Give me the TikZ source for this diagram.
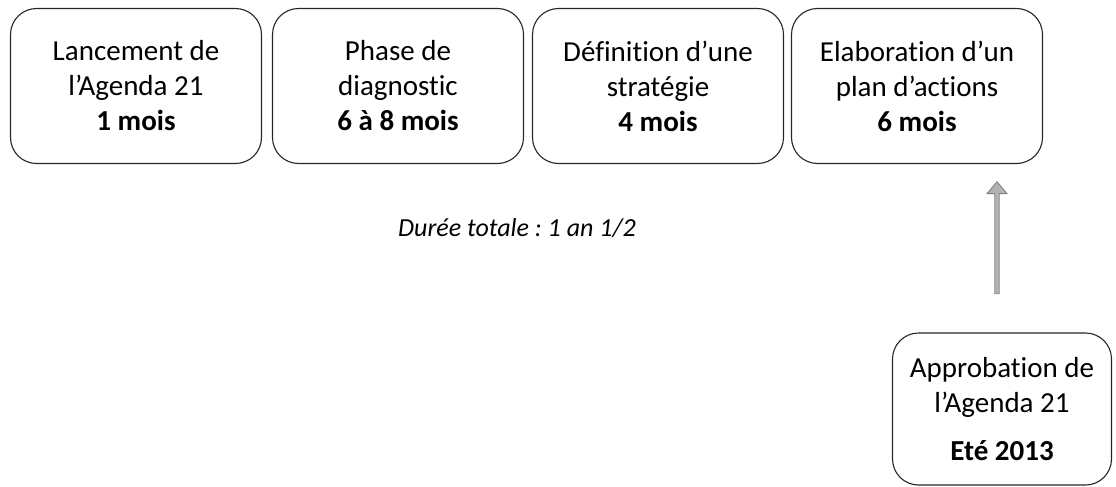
\documentclass[tikz,border=0pt]{standalone}
\usepackage{fontspec}
\setmainfont[Ligatures={NoCommon}]{Carlito}
\usetikzlibrary{shapes.arrows}
\frenchspacing
\begin{document}
\begin{tikzpicture}[x=1pt,y=1pt,
  phase/.style={draw=black!85, line width=1.1pt, rounded corners=26pt, align=center,
    minimum width=251pt, minimum height=155pt, inner sep=0pt,
    font=\fontsize{29}{35}\selectfont},
  uparrow/.style={single arrow, draw=black!50, fill=black!30, line width=0.8pt,
    shape border rotate=90, minimum height=112pt, minimum width=20pt,
    single arrow head extend=5pt, single arrow tip angle=80, inner sep=1pt}]
\useasboundingbox (0,0) rectangle (1116,-487);
\node[phase] (p1) at (136,-86) {Lancement de\\l’Agenda 21\\\textbf{1 mois}};
\node[phase] (p2) at (398,-86) {Phase de\\diagnostic\\\textbf{6 à 8 mois}};
\node[phase] (p3) at (658,-86) {Définition d’une\\stratégie\\\textbf{4 mois}};
\node[phase] (p4) at (917,-86) {Elaboration d’un\\plan d’actions\\\textbf{6 mois}};
\node[phase, minimum width=219pt, minimum height=152pt] (ap) at (1002,-409)
  {Approbation de\\l’Agenda 21\\[13pt]\textbf{Eté 2013}};
\node[font=\fontsize{26}{30}\selectfont\itshape] (dur) at (517,-228) {Durée totale : 1 an 1/2};
\node[uparrow] (arr) at (997,-239) {};
\end{tikzpicture}
\end{document}
